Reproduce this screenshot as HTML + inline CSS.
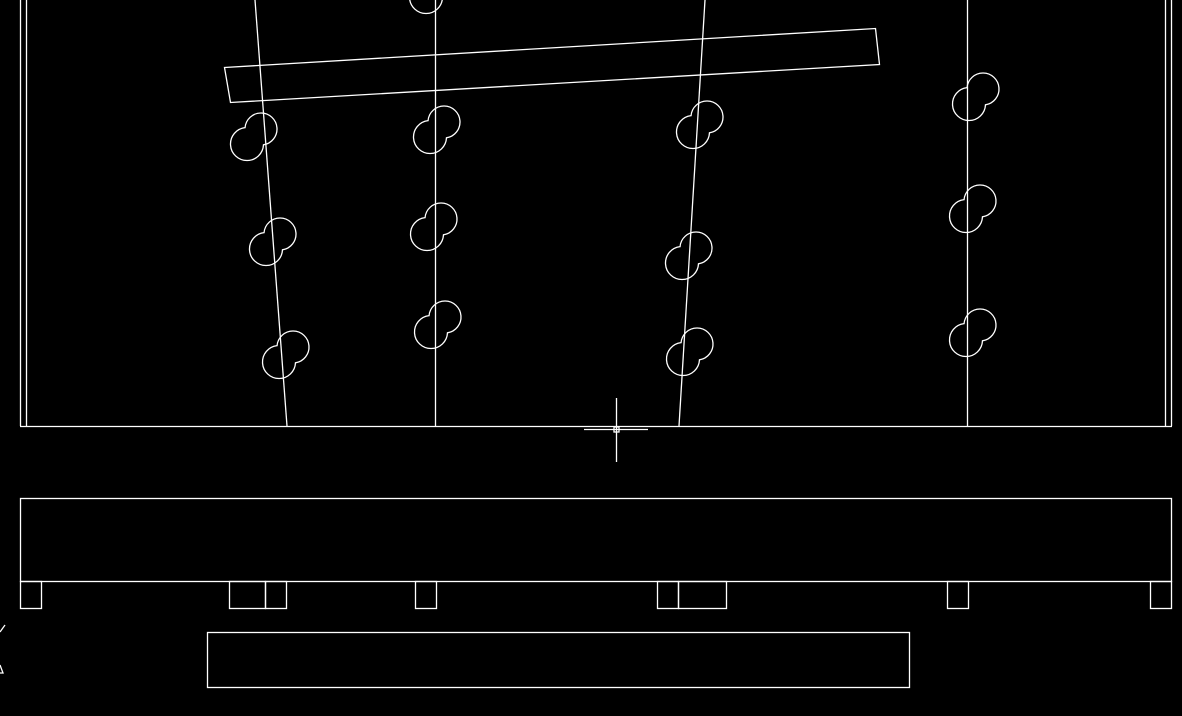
<!DOCTYPE html>
<html><head><style>html,body{margin:0;padding:0;background:#000;}svg{display:block}</style></head>
<body>
<svg width="1182" height="716" viewBox="0 0 1182 716" xmlns="http://www.w3.org/2000/svg">
<defs>
<path id="b" d="M 9.48 7.81 A 16.5 16.5 0 1 1 -8.94 -9.37 A 16 16 0 1 1 9.48 7.81 Z" fill="none" stroke="#fff" stroke-width="1.3"/>
</defs>
<rect width="1182" height="716" fill="#000"/>
<g fill="none" stroke="#fff" stroke-width="1.3">
<use href="#b" x="254" y="137"/>
<use href="#b" x="437" y="130"/>
<use href="#b" x="700" y="125"/>
<use href="#b" x="976" y="97"/>
<use href="#b" x="273" y="242"/>
<use href="#b" x="434" y="227"/>
<use href="#b" x="689" y="256"/>
<use href="#b" x="973" y="209"/>
<use href="#b" x="286" y="355"/>
<use href="#b" x="438" y="325"/>
<use href="#b" x="690" y="352"/>
<use href="#b" x="973" y="333"/>
<use href="#b" x="433" y="-10"/>
<line x1="20.5" y1="0" x2="20.5" y2="426"/>
<line x1="26.5" y1="0" x2="26.5" y2="426"/>
<line x1="1165.5" y1="0" x2="1165.5" y2="426"/>
<line x1="1171.5" y1="0" x2="1171.5" y2="426"/>
<line x1="20" y1="426.5" x2="1172" y2="426.5"/>
<line x1="255" y1="0" x2="287" y2="426"/>
<line x1="435.5" y1="0" x2="435.5" y2="426"/>
<line x1="705" y1="0" x2="679" y2="426"/>
<line x1="967.5" y1="0" x2="967.5" y2="426"/>
<polygon points="224.5,67.5 875.5,28.5 879.5,64.5 230.5,102.5"/>
<line x1="584" y1="429.5" x2="648" y2="429.5"/>
<line x1="616.5" y1="398" x2="616.5" y2="462"/>
<rect x="614" y="427" width="5" height="5"/>
<rect x="20.5" y="498.5" width="1151" height="83"/>
<rect x="20.5" y="581.5" width="21" height="27"/>
<rect x="229.5" y="581.5" width="36" height="27"/>
<rect x="265.5" y="581.5" width="21" height="27"/>
<rect x="415.5" y="581.5" width="21" height="27"/>
<rect x="657.5" y="581.5" width="21" height="27"/>
<rect x="678.5" y="581.5" width="48" height="27"/>
<rect x="947.5" y="581.5" width="21" height="27"/>
<rect x="1150.5" y="581.5" width="21" height="27"/>
<rect x="207.5" y="632.5" width="702" height="55"/>
<line x1="5" y1="625" x2="0" y2="632"/>
<polyline points="0,665 3,673 0,673"/>
</g>
</svg>
</body></html>
